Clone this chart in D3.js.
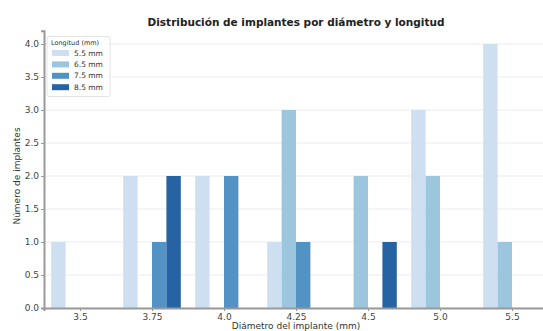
<!DOCTYPE html>
<html><head><meta charset="utf-8">
<script src="https://cdn.jsdelivr.net/npm/d3@7"></script>
<style>body{margin:0;background:#fff}svg{display:block}text{font-family:"DejaVu Sans",sans-serif}</style>
</head><body><svg id="c" width="543" height="331"></svg>
<script>
const diametros = ["3.5","3.75","4.0","4.25","4.5","5.0","5.5"];
const longitudes = ["5.5 mm","6.5 mm","7.5 mm","8.5 mm"];
const l55 = [1,2,2,1,0,3,4];
const l65 = [0,0,0,3,2,2,1];
const l75 = [0,1,2,1,0,0,0];
const l85 = [0,2,0,0,1,0,0];
const series = [l55,l65,l75,l85];
const colores = ["#cddff0","#9cc5de","#5392c4","#2663a2"];
const yTicks = [0,0.5,1,1.5,2,2.5,3,3.5,4];

const svg = d3.select("#c");
const x = d3.scaleLinear().domain([-0.5,6.5]).range([44,548]);
const y = d3.scaleLinear().domain([0,4.2]).range([308,30.8]);
const bw = 0.2;

// grid
svg.append("g").selectAll("line").data(yTicks).join("line")
  .attr("x1",44).attr("x2",548).attr("y1",d=>y(d)).attr("y2",d=>y(d))
  .attr("stroke","#e6e6e6").attr("stroke-width",0.8);

// bars
series.forEach((s,k)=>{
  svg.append("g").selectAll("rect").data(s).join("rect")
    .attr("x",(d,i)=>x(i+(k-1.5)*bw-bw/2))
    .attr("width",x(bw)-x(0))
    .attr("y",d=>y(d))
    .attr("height",d=>y(0)-y(d))
    .attr("fill",colores[k]);
});

// axes
const ax = svg.append("g").attr("transform","translate(0,308)")
  .call(d3.axisBottom(x).tickValues(d3.range(diametros.length)).tickFormat(i=>diametros[i]).tickSize(3).tickPadding(3));
const ay = svg.append("g").attr("transform","translate(44,0)")
  .call(d3.axisLeft(y).tickValues(yTicks).tickFormat(d3.format(".1f")).tickSize(3).tickPadding(2));
[ax,ay].forEach(a=>{
  a.select(".domain").attr("stroke","#999").attr("stroke-width",2);
  a.selectAll(".tick line").attr("stroke","#999");
  a.selectAll(".tick text").attr("fill","#444").style("font-size","9px");
});

// title
svg.append("text").attr("x",296).attr("y",26).attr("text-anchor","middle")
  .style("font-size","10.5px").style("font-weight","bold").attr("fill","#222")
  .text("Distribución de implantes por diámetro y longitud");
svg.append("text").attr("x",296).attr("y",329).attr("text-anchor","middle")
  .style("font-size","9px").attr("fill","#333").text("Diámetro del implante (mm)");
svg.append("text").attr("transform","translate(20,176) rotate(-90)").attr("text-anchor","middle")
  .style("font-size","9px").attr("fill","#333").text("Número de implantes");

// legend
const lg = svg.append("g");
lg.append("rect").attr("x",47).attr("y",36.5).attr("width",63).attr("height",60).attr("rx",2)
  .attr("fill","#fff").attr("fill-opacity",0.8).attr("stroke","#ddd").attr("stroke-width",0.8);
lg.append("text").attr("x",51).attr("y",44.5).style("font-size","6.5px").attr("fill","#333").text("Longitud (mm)");
longitudes.forEach((t,k)=>{
  const cy = 53 + k*11.4;
  lg.append("rect").attr("x",52).attr("y",cy-3).attr("width",17).attr("height",6).attr("fill",colores[k]);
  lg.append("text").attr("x",74).attr("y",cy+2.6).style("font-size","7.5px").attr("fill","#333").text(t);
});
</script></body></html>
